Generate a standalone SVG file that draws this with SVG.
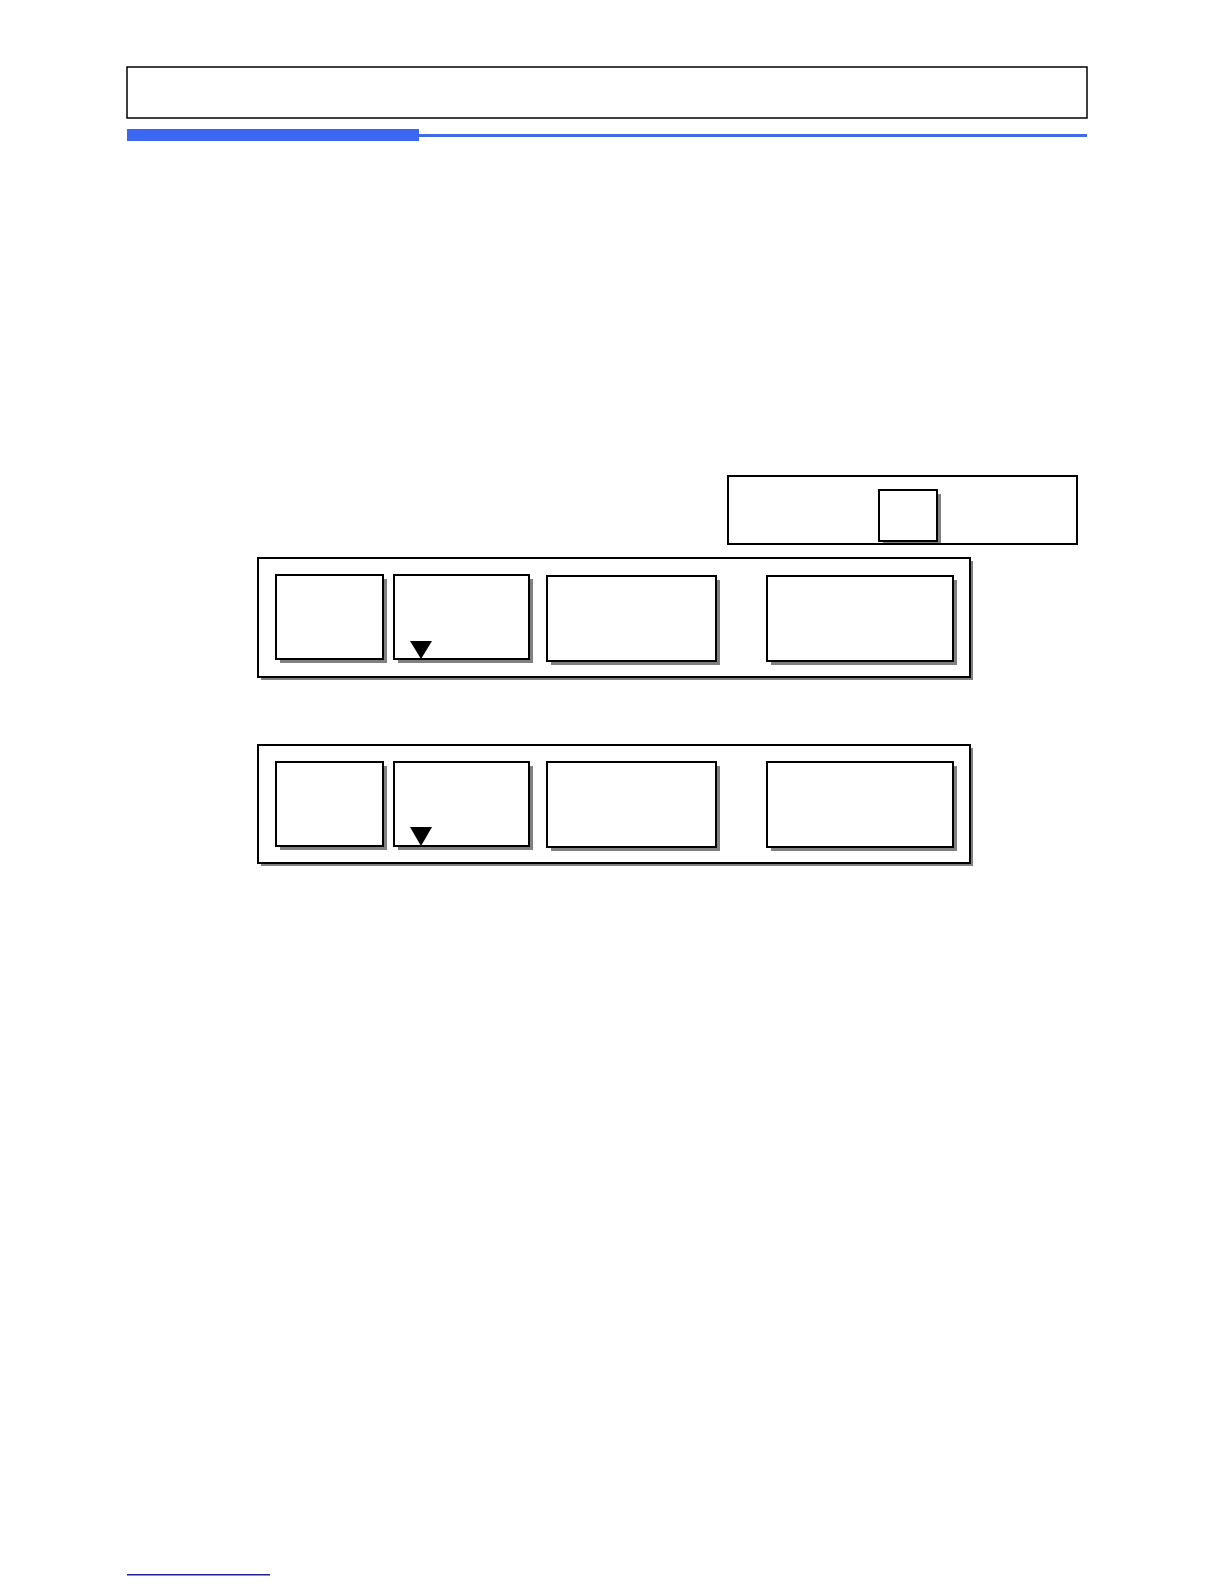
<svg xmlns="http://www.w3.org/2000/svg" width="1224" height="1584" viewBox="0 0 1224 1584">
  <style>
    .frame { fill: #ffffff; stroke: #000000; stroke-width: 1.5; }
    .box { fill: #ffffff; stroke: #000000; stroke-width: 2; }
    .shadow { fill: #808080; stroke: none; }
    .tri { fill: #000000; stroke: none; }
  </style>
  <rect x="0" y="0" width="1224" height="1584" fill="#ffffff"/>

  <g id="header">
    <rect class="frame" x="127" y="67" width="960" height="51"/>
    <rect x="127" y="129" width="292" height="12" fill="#3B67F2"/>
    <rect x="419" y="134" width="668" height="3" fill="#4169E1"/>
  </g>

  <g id="key-box">
    <rect class="box" x="728" y="476" width="349" height="68"/>
    <rect class="shadow" x="883" y="494" width="58" height="49"/>
    <rect class="box" x="879" y="490" width="58" height="51"/>
  </g>

  <g id="display-1">
    <rect class="shadow" x="261" y="561" width="712" height="119"/>
    <rect class="box" x="258" y="558" width="712" height="119"/>
    <g id="display-1-a">
      <rect class="shadow" x="280" y="579" width="107" height="84"/>
      <rect class="box" x="276" y="575" width="107" height="84"/>
    </g>
    <g id="display-1-b">
      <rect class="shadow" x="398" y="579" width="135" height="84"/>
      <rect class="box" x="394" y="575" width="135" height="84"/>
      <polygon class="tri" points="410,641 432,641 421,659"/>
    </g>
    <g id="display-1-c">
      <rect class="shadow" x="551" y="580" width="169" height="85"/>
      <rect class="box" x="547" y="576" width="169" height="85"/>
    </g>
    <g id="display-1-d">
      <rect class="shadow" x="771" y="580" width="186" height="85"/>
      <rect class="box" x="767" y="576" width="186" height="85"/>
    </g>
  </g>

  <g id="display-2">
    <rect class="shadow" x="261" y="748" width="712" height="118"/>
    <rect class="box" x="258" y="745" width="712" height="118"/>
    <g id="display-2-a">
      <rect class="shadow" x="280" y="766" width="107" height="84"/>
      <rect class="box" x="276" y="762" width="107" height="84"/>
    </g>
    <g id="display-2-b">
      <rect class="shadow" x="398" y="766" width="135" height="84"/>
      <rect class="box" x="394" y="762" width="135" height="84"/>
      <polygon class="tri" points="410,827 432,827 421,846"/>
    </g>
    <g id="display-2-c">
      <rect class="shadow" x="551" y="766" width="169" height="85"/>
      <rect class="box" x="547" y="762" width="169" height="85"/>
    </g>
    <g id="display-2-d">
      <rect class="shadow" x="771" y="766" width="186" height="85"/>
      <rect class="box" x="767" y="762" width="186" height="85"/>
    </g>
  </g>

  <g id="connectors"/>

  <g id="footer">
    <rect x="127" y="1574" width="143" height="1.5" fill="#1F1F8F"/>
  </g>
</svg>
